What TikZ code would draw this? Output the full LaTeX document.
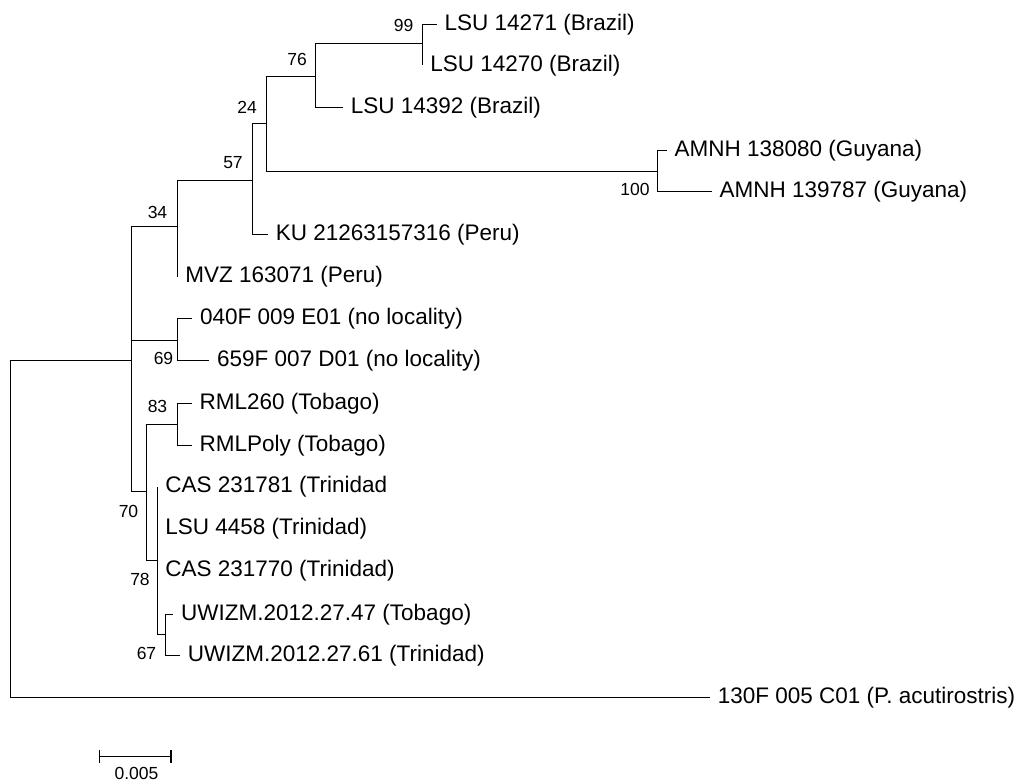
\documentclass[tikz,border=0pt]{standalone}
\usepackage{fontspec}
\setmainfont{Liberation Sans}
\usepackage{tikz}
\usetikzlibrary{positioning}
\usetikzlibrary{arrows.meta}

\begin{document}
\begin{tikzpicture}[x=1pt, y=-1pt, line width=1.7pt,
        leaf/.style={anchor=west, inner xsep=7pt, inner ysep=0pt,
            text height=17pt, text depth=4.6pt,
            font=\fontsize{22.5}{27}\selectfont},
        boot/.style={inner sep=0pt, font=\fontsize{17.5}{21}\selectfont},
        elbow/.style={to path={|- (\tikztotarget)}}]
            \useasboundingbox (0,0) rectangle (1028,784);

            \coordinate (root) at (10.5,528);
            \coordinate (ing) at (131.5,360.5);
            \coordinate (n34) at (177.5,226.5);
            \coordinate (n57) at (252.5,180.5);
            \coordinate (n24) at (266.5,123.5);
            \coordinate (n76) at (315.5,76.5);
            \coordinate (n99) at (422.5,43.5);
            \coordinate (n100) at (657.5,171.5);
            \coordinate (n69) at (177.5,340.5);
            \coordinate (n70) at (146.5,491.5);
            \coordinate (n83) at (177.5,424.5);
            \coordinate (n78) at (157.5,560.5);
            \coordinate (n67) at (165.5,634.5);

            \node [leaf] (lsua) at (436.7,24.5) {LSU 14271 (Brazil)};
            \node [leaf] (lsub) at (422.5,65.5) {LSU 14270 (Brazil)};
            \node [leaf] (lsuc) at (343,107.5) {LSU 14392 (Brazil)};
            \node [leaf] (amnha) at (666.7,150.5) {AMNH 138080 (Guyana)};
            \node [leaf] (amnhb) at (711.7,191.5) {AMNH 139787 (Guyana)};
            \node [leaf] (ku) at (268,234.5) {KU 21263157316 (Peru)};
            \node [leaf] (mvz) at (177.5,276.5) {MVZ 163071 (Peru)};
            \node [leaf] (efa) at (192.3,318.5) {040F 009 E01 (no locality)};
            \node [leaf] (dfa) at (209.3,360.5) {659F 007 D01 (no locality)};
            \node [leaf] (rmla) at (191.7,403.5) {RML260 (Tobago)};
            \node [leaf] (rmlb) at (191.7,445.5) {RMLPoly (Tobago)};
            \node [leaf] (casa) at (157.5,486.5) {CAS 231781 (Trinidad};
            \node [leaf] (lsud) at (157.5,528.5) {LSU 4458 (Trinidad)};
            \node [leaf] (casb) at (157.5,570.5) {CAS 231770 (Trinidad)};
            \node [leaf] (uwia) at (173.3,614.5) {UWIZM.2012.27.47 (Tobago)};
            \node [leaf] (uwib) at (180,655.5) {UWIZM.2012.27.61 (Trinidad)};
            \node [leaf] (outg) at (710,697.5) {130F 005 C01 (P. acutirostris)};

            \path (root) edge [elbow] (ing);
            \path (root) edge [elbow] (outg);

            \path (ing) edge [elbow] (n34);
            \path (ing) edge [elbow] (n69);
            \path (ing) edge [elbow] (n70);

            \path (n34) edge [elbow] (n57);
            \path (n34) edge [elbow] (mvz);
            \path (n57) edge [elbow] (n24);
            \path (n57) edge [elbow] (ku);
            \path (n24) edge [elbow] (n76);
            \path (n24) edge [elbow] (n100);
            \path (n76) edge [elbow] (n99);
            \path (n76) edge [elbow] (lsuc);
            \path (n99) edge [elbow] (lsua);
            \path (n99) edge [elbow] (lsub);
            \path (n100) edge [elbow] (amnha);
            \path (n100) edge [elbow] (amnhb);

            \path (n69) edge [elbow] (efa);
            \path (n69) edge [elbow] (dfa);

            \path (n70) edge [elbow] (n83);
            \path (n70) edge [elbow] (n78);
            \path (n83) edge [elbow] (rmla);
            \path (n83) edge [elbow] (rmlb);
            \path (n78) edge [elbow] (casa);
            \path (n78) edge [elbow] (lsud);
            \path (n78) edge [elbow] (casb);
            \path (n78) edge [elbow] (n67);
            \path (n67) edge [elbow] (uwia);
            \path (n67) edge [elbow] (uwib);

            \node [boot] (b99) at (403.5,25.5) {99};
            \node [boot] (b76) at (297,59) {76};
            \node [boot] (b24) at (247,107) {24};
            \node [boot] (b57) at (233,163) {57};
            \node [boot] (b34) at (157.5,212) {34};
            \node [boot] (b100) at (635,189) {100};
            \node [boot] (b69) at (163.5,358.5) {69};
            \node [boot] (b83) at (157.5,406.5) {83};
            \node [boot] (b70) at (128.5,511.5) {70};
            \node [boot] (b78) at (140,579.5) {78};
            \node [boot] (b67) at (146.5,653.5) {67};

            \coordinate (sbl) at (98.5,756.5);
            \coordinate (sbr) at (171.5,756.5);
            \draw [arrows={Bar[width=13pt]-Bar[width=13pt]}] (sbl) -- (sbr);
            \node [boot] (sbtext) at (136.5,773.5) {0.005};

        \end{tikzpicture}
\end{document}
